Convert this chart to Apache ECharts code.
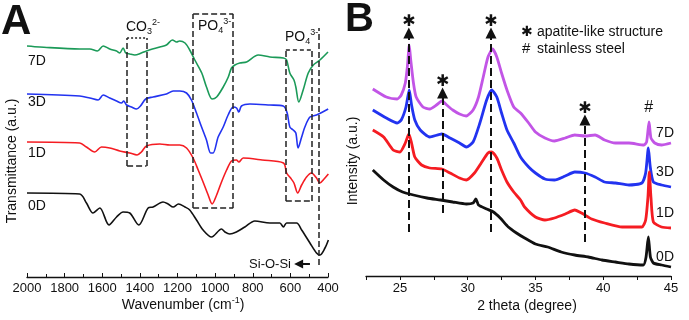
<!DOCTYPE html>
<html>
<head>
<meta charset="utf-8">
<script src="https://cdn.jsdelivr.net/npm/echarts@6/dist/echarts.min.js"></script>
<style>
html,body{margin:0;padding:0;background:#fff;}
#chart{width:689px;height:320px;}
</style>
</head>
<body>
<div id="chart"></div>
<script>
// ---- panel A: FTIR, [wavenumber, transmittance a.u.] ----
const ftir7D = [[2000,231],[1932,230],[1720,228],[1666,228],[1626,226],[1595,231],[1560,228],[1524,226],[1507,224],[1489,229],[1475,224],[1454,223],[1427,222],[1392,224],[1365,226],[1294,230],[1259,232],[1227,237],[1205,235],[1189,236],[1160,234],[1135,227],[1108,217],[1071,204],[1046,190],[1016,178],[992,180],[957,190],[930,200],[913,209],[895,212],[869,214],[833,215],[771,222],[709,220],[637,219],[620,217],[603,204],[581,197],[571,190],[555,175],[532,187],[505,204],[478,212],[443,217],[400,225]];
const ftir3D = [[2000,183],[1720,181],[1666,179],[1622,177],[1595,182],[1560,179],[1524,176],[1498,174],[1486,176],[1471,172],[1445,170],[1418,168],[1397,171],[1369,178],[1330,180],[1259,183],[1223,186],[1188,186],[1152,184],[1126,177],[1099,164],[1072,150],[1046,137],[1024,124],[1011,124],[984,140],[957,150],[931,162],[904,170],[886,169],[874,165],[860,171],[815,173],[709,172],[638,171],[617,164],[603,150],[585,147],[571,144],[559,129],[540,140],[523,150],[496,160],[461,162],[399,168]];
const ftir1D = [[2000,135],[1720,134],[1684,130],[1640,125],[1604,130],[1560,129],[1507,126],[1454,124],[1415,122],[1392,125],[1365,131],[1294,133],[1241,132],[1188,132],[1152,129],[1117,119],[1090,107],[1064,95],[1037,82],[1016,73],[992,82],[966,95],[939,107],[913,116],[887,117],[874,115],[851,119],[750,117],[637,114],[620,104],[599,99],[581,94],[561,84],[540,92],[514,100],[488,104],[461,99],[443,94],[421,98],[398,103]];
const ftir0D = [[2000,84],[1720,83],[1684,74],[1649,64],[1613,69],[1564,52],[1524,60],[1489,65],[1454,64],[1406,52],[1356,69],[1330,70],[1277,75],[1250,73],[1223,70],[1195,73],[1160,70],[1135,67],[1099,57],[1064,47],[1019,40],[966,48],[948,45],[922,43],[887,45],[842,50],[789,56],[709,54],[656,54],[637,50],[620,54],[567,54],[540,47],[496,34],[461,24],[443,22],[416,29],[398,37]];

// ---- panel B: XRD, [2 theta, intensity a.u.] ----
const xrd7D = [[23.0,187],[24.0,179],[24.8,177],[25.1,181],[25.4,193],[25.55,209],[25.69,231],[25.8,216],[26.0,193],[26.2,179],[26.7,169],[27.2,167],[27.7,171],[28.1,175],[28.45,171],[28.9,166],[29.4,162],[29.9,160],[30.4,166],[30.8,179],[31.15,199],[31.5,219],[31.84,227],[32.15,219],[32.5,203],[32.9,186],[33.4,169],[33.9,163],[34.5,153],[35.0,144],[35.7,138],[36.4,135],[37.2,138],[37.9,141],[38.65,140],[39.4,141],[40.1,136],[40.9,133],[41.9,133],[43.0,131],[43.2,134],[43.38,154],[43.52,138],[43.8,133],[44.3,131],[45.0,133]];
const xrd3D = [[23.0,166],[24.0,158],[24.8,153],[25.1,156],[25.45,169],[25.69,186],[25.86,171],[26.1,156],[26.5,146],[27.2,139],[28.1,142],[28.7,138],[29.4,133],[29.9,129],[30.4,134],[30.9,153],[31.4,176],[31.77,186],[32.15,179],[32.5,163],[32.9,146],[33.4,133],[33.9,119],[34.5,109],[35.0,103],[35.7,97],[36.4,96],[37.2,100],[37.9,104],[38.65,103],[39.4,99],[40.1,94],[40.9,93],[41.9,91],[42.85,93],[43.13,103],[43.33,128],[43.47,109],[43.7,94],[44.3,91],[45.0,89]];
const xrd1D = [[23.0,146],[23.8,139],[24.5,126],[25.0,124],[25.4,133],[25.66,142],[25.86,133],[26.1,119],[26.6,111],[27.2,108],[28.1,107],[28.7,103],[29.4,98],[29.9,96],[30.5,103],[31.0,113],[31.5,123],[31.77,124],[32.15,118],[32.5,106],[32.9,94],[33.4,84],[33.9,76],[34.2,69],[35.0,59],[35.7,56],[36.4,58],[37.2,62],[37.9,66],[38.4,63],[39.15,57],[40.1,53],[41.4,49],[42.85,49],[43.13,56],[43.3,79],[43.4,104],[43.52,79],[43.7,54],[44.3,49],[45.0,48]];
const xrd0D = [[23.0,106],[23.8,96],[24.5,89],[25.2,84],[26.0,81],[27.0,78],[28.0,76],[28.9,74],[29.9,72],[30.4,73],[30.61,77],[30.8,71],[31.4,67],[31.9,64],[32.4,58],[33.0,49],[33.6,43],[34.2,38],[35.0,32],[35.9,29],[36.9,24],[37.9,21],[38.9,19],[39.9,16],[40.9,14],[41.9,12],[42.96,11],[43.16,19],[43.33,39],[43.48,19],[43.7,13],[44.3,11],[45.0,9]];

// annotation positions (data units)
const co3Box = [1468, 1365, 111, 239];
const po4Box = [1117, 904, 69, 263];
const po4Box2 = [624, 487, 76, 227];
const siOSi = [449, 12, 249];
const apatitePeaks = [[25.66, 44, 243], [28.15, 63, 183], [31.72, 44, 243], [38.65, 34, 156]];
const steelPeak = [43.35, 168];

const FONT = '"Liberation Sans", Arial, sans-serif';
const green = '#1b9a58', blue = '#2233f0', red = '#f51c22', purple = '#c255e6';

function box(b, topDash) {
  const [x1, x2, y1, y2] = b;
  return [
    [{coord: [x1, y2], lineStyle: {type: topDash}}, {coord: [x2, y2]}],
    [{coord: [x1, y1]}, {coord: [x2, y1]}],
    [{coord: [x1, y1]}, {coord: [x1, y2]}],
    [{coord: [x2, y1]}, {coord: [x2, y2]}]
  ];
}

function ftirSeries(name, data, color) {
  return {name, type: 'line', xAxisIndex: 0, yAxisIndex: 0, data, showSymbol: false,
    smooth: 0.3, lineStyle: {color, width: 1.6}, animation: false};
}
function xrdSeries(name, data, color) {
  return {name, type: 'line', xAxisIndex: 1, yAxisIndex: 1, data, showSymbol: false,
    smooth: 0.2, lineStyle: {color, width: 2.8}, animation: false};
}

const chart = echarts.init(document.getElementById('chart'));

const s0A = ftirSeries('0D', ftir0D, '#111');
s0A.markLine = {
  silent: true, animation: false, symbol: ['none', 'none'], label: {show: false},
  lineStyle: {color: '#222', width: 1.5, type: [6, 3]},
  data: [
    ...box(co3Box, [2, 2]),
    ...box(po4Box, [6, 3]),
    ...box(po4Box2, [4, 3]),
    [{coord: [siOSi[0], siOSi[1]]}, {coord: [siOSi[0], siOSi[2]]}],
    [{coord: [496, 13], symbol: 'none', lineStyle: {type: 'solid', width: 2, color: '#111'}},
     {coord: [556, 13], symbol: 'triangle', symbolSize: 9}]
  ]
};

const s0B = xrdSeries('0D', xrd0D, '#111');
s0B.markLine = {
  silent: true, animation: false, symbol: 'none',
  lineStyle: {color: '#111', width: 2, type: [8, 4]},
  label: {show: true, position: 'end', formatter: '\u2731', fontSize: 16, color: '#111',
    fontFamily: '"DejaVu Sans"', distance: 3},
  data: apatitePeaks.map(p => [
    {coord: [p[0], p[1]], symbol: 'none'},
    {coord: [p[0], p[2]], symbol: 'triangle', symbolSize: 11}
  ])
};
s0B.markPoint = {
  silent: true, animation: false, symbol: 'circle', symbolSize: 12,
  itemStyle: {color: 'transparent'},
  label: {show: true, position: 'inside', formatter: '#', fontSize: 16, color: '#111', fontFamily: FONT},
  data: [{coord: steelPeak}]
};

function txt(x, y, text, opt) {
  return {type: 'text', x, y, silent: true, rotation: (opt && opt.rot) || 0,
    style: Object.assign({text, fill: '#111', fontSize: 14, fontFamily: FONT,
      verticalAlign: 'middle', align: 'left'}, opt && opt.style)};
}
const richChem = {
  m: {fontSize: 14, fontFamily: FONT, lineHeight: 18, verticalAlign: 'middle', fill: '#111'},
  b: {fontSize: 9, fontFamily: FONT, lineHeight: 9, verticalAlign: 'bottom', fill: '#111'},
  t: {fontSize: 9, fontFamily: FONT, lineHeight: 9, verticalAlign: 'top', fill: '#111'}
};

chart.setOption({
  animation: false,
  textStyle: {fontFamily: FONT},
  grid: [
    {left: 27, top: 10, width: 301, height: 267},
    {left: 366, top: 10, width: 305, height: 266}
  ],
  xAxis: [
    {type: 'value', gridIndex: 0, min: 400, max: 2000, interval: 200, inverse: true,
      axisLine: {lineStyle: {color: '#111', width: 1.3}},
      axisTick: {inside: true, length: 4, lineStyle: {color: '#111'}},
      minorTick: {show: true, splitNumber: 2, length: 3, lineStyle: {color: '#111'}},
      axisLabel: {color: '#111', fontSize: 13, margin: 5, formatter: v => String(v)},
      splitLine: {show: false}},
    {type: 'value', gridIndex: 1, min: 22.5, max: 45, interval: 2.5,
      axisLine: {lineStyle: {color: '#111', width: 1.3}},
      axisTick: {length: 4, lineStyle: {color: '#111'}},
      axisLabel: {color: '#111', fontSize: 13, margin: 6,
        formatter: v => (v % 5 === 0 ? String(v) : '')},
      splitLine: {show: false}}
  ],
  yAxis: [
    {type: 'value', gridIndex: 0, min: 0, max: 267, show: false},
    {type: 'value', gridIndex: 1, min: 0, max: 266, show: false}
  ],
  series: [
    ftirSeries('7D', ftir7D, green),
    ftirSeries('3D', ftir3D, blue),
    ftirSeries('1D', ftir1D, red),
    s0A,
    xrdSeries('7D', xrd7D, purple),
    xrdSeries('3D', xrd3D, blue),
    xrdSeries('1D', xrd1D, red),
    s0B
  ],
  graphic: [
    txt(1, 22, 'A', {style: {fontSize: 42, fontWeight: 'bold'}}),
    txt(345, 20, 'B', {style: {fontSize: 40, fontWeight: 'bold'}}),
    txt(28, 61, '7D'), txt(28, 102, '3D'), txt(28, 153, '1D'), txt(28, 206, '0D'),
    txt(674, 133, '7D', {style: {align: 'right'}}),
    txt(674, 172, '3D', {style: {align: 'right'}}),
    txt(674, 213, '1D', {style: {align: 'right'}}),
    txt(674, 257, '0D', {style: {align: 'right'}}),
    txt(12, 161, 'Transmittance (a.u.)', {rot: Math.PI / 2, style: {align: 'center'}}),
    txt(353, 161, 'Intensity (a.u.)', {rot: Math.PI / 2, style: {align: 'center'}}),
    txt(183, 305, '{m|Wavenumber (cm}{t|-1}{m|)}', {style: {align: 'center', rich: richChem}}),
    txt(527, 306, '2 theta (degree)', {style: {align: 'center'}}),
    txt(126, 27, '{m|CO}{b|3}{t|2-}', {style: {rich: richChem}}),
    txt(198, 26, '{m|PO}{b|4}{t|3-}', {style: {rich: richChem}}),
    txt(285, 37, '{m|PO}{b|4}{t|3-}', {style: {rich: richChem}}),
    txt(291, 264, 'Si-O-Si', {style: {align: 'right', fontSize: 13}}),
    txt(521, 32, '\u2731', {style: {fontFamily: '"DejaVu Sans"', fontSize: 14}}),
    txt(537, 32, 'apatite-like structure'),
    txt(522, 49, '#', {style: {fontSize: 15}}),
    txt(537, 49, 'stainless steel')
  ]
});
</script>
</body>
</html>
